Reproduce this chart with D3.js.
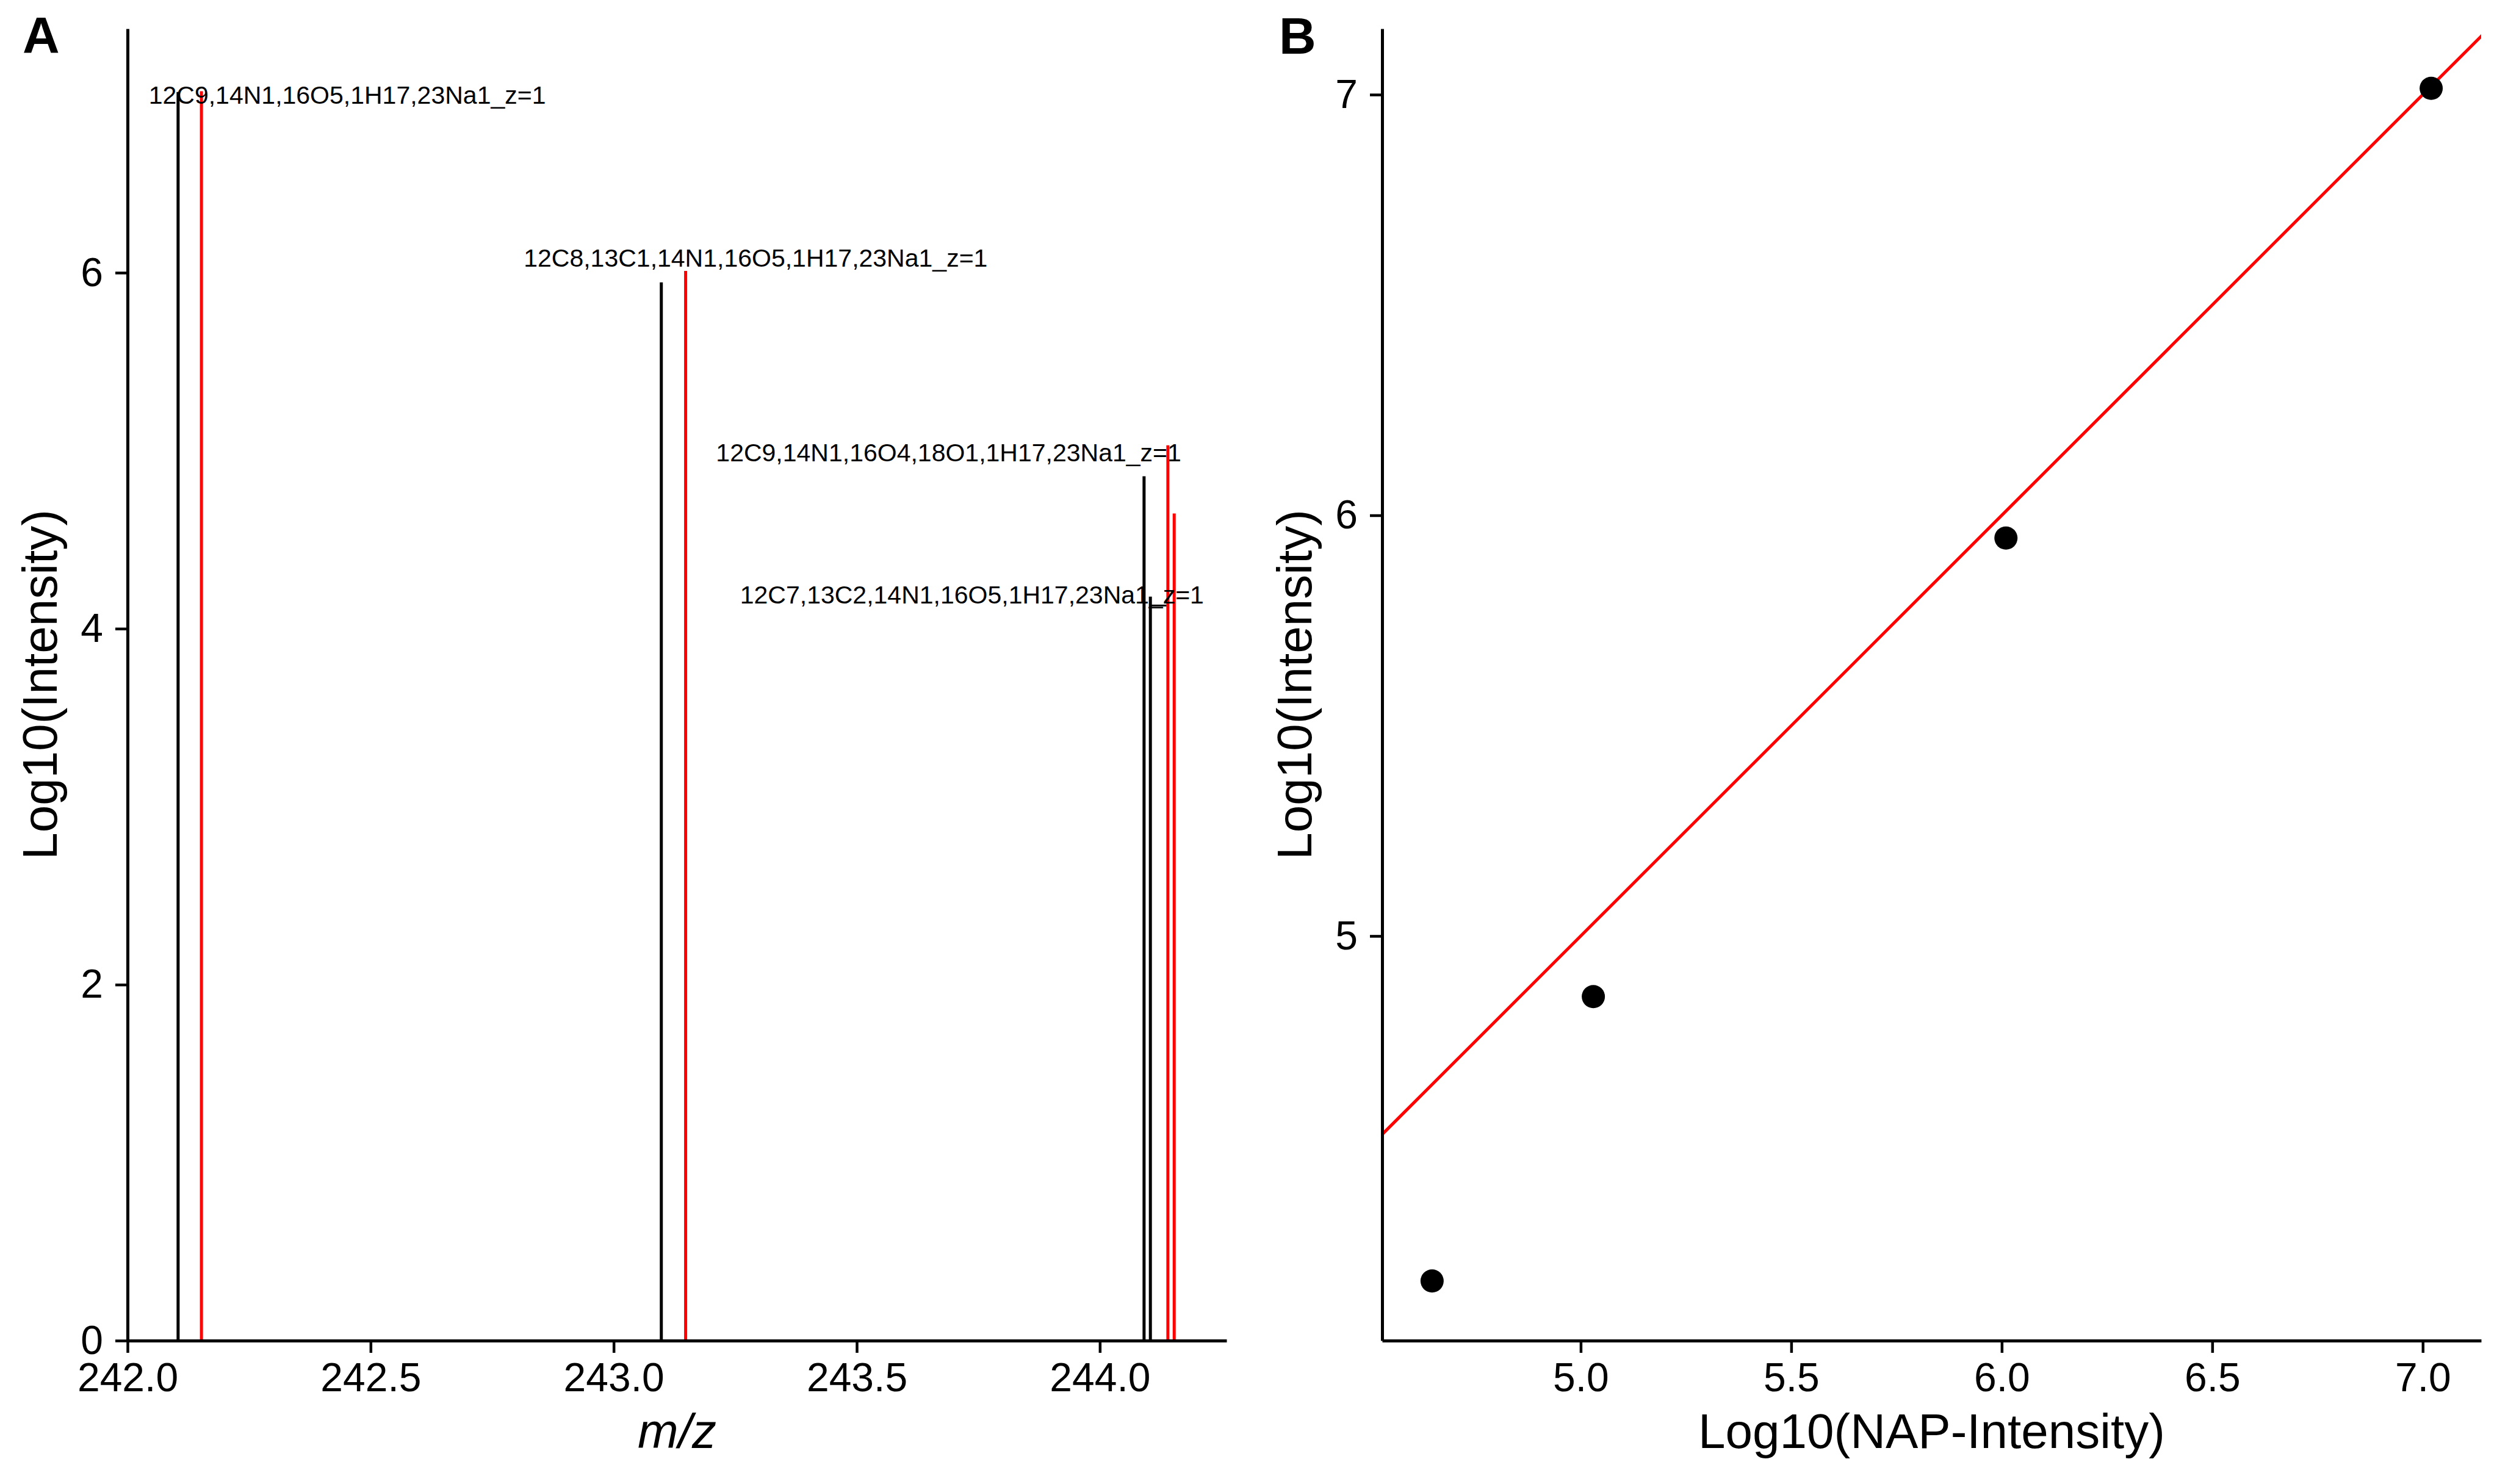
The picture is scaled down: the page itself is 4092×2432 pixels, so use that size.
<!DOCTYPE html>
<html>
<head>
<meta charset="utf-8">
<script src="https://cdnjs.cloudflare.com/ajax/libs/d3/7.8.5/d3.min.js"></script>
<style>
  body { margin: 0; background: #fff; }
  text { font-family: "Liberation Sans", Arial, Helvetica, sans-serif; }
</style>
</head>
<body>
<div id="chart"></div>
<script>
// isotopologue labels (panel A)
var isoLabels = [
    "12C9,14N1,16O5,1H17,23Na1_z=1",
    "12C8,13C1,14N1,16O5,1H17,23Na1_z=1",
    "12C9,14N1,16O4,18O1,1H17,23Na1_z=1",
    "12C7,13C2,14N1,16O5,1H17,23Na1_z=1"
];

// measured peaks (black sticks)
var measuredMz = [242.104, 243.098, 244.091, 244.104];
var measuredLog = [7.015, 5.946, 4.856, 4.18];

// NAP predicted peaks (red sticks)
var napMz = [242.152, 243.148, 244.140, 244.153];
var napLog = [7.02, 6.01, 5.03, 4.647];

// where the repelled labels ended up (data units)
var labelMz = [242.452, 243.292, 243.689, 243.737];
var labelLog = [7.0, 6.083, 4.99, 4.19];

// ticks
var xTicksA = [242.0, 242.5, 243.0, 243.5, 244.0];
var yTicksA = [0, 2, 4, 6];
var xTicksB = [5.0, 5.5, 6.0, 6.5, 7.0];
var yTicksB = [5, 6, 7];

var svgWidth = 4092;
var svgHeight = 2432;

var svg = d3.select("#chart")
    .append("svg")
    .attr("width", svgWidth)
    .attr("height", svgHeight);

svg.append("rect")
    .attr("width", svgWidth)
    .attr("height", svgHeight)
    .attr("fill", "white");

var tickFont = 66;
var titleFont = 80;

// panel boxes in pixels
var panelA = { left: 209, right: 2010, top: 47, bottom: 2197 };
var panelB = { left: 2265, right: 4066, top: 47, bottom: 2197 };

function styleAxis(g) {
    g.select(".domain").attr("stroke", "black").attr("stroke-width", 5);
    g.selectAll(".tick line").attr("stroke", "black").attr("stroke-width", 4.5);
    g.selectAll(".tick text")
        .attr("font-size", tickFont)
        .attr("fill", "black");
}

function expand(lo, hi) {
    var pad = (hi - lo) * 0.05;
    return [lo - pad, hi + pad];
}

// ---------------- Panel A ----------------
var allMz = measuredMz.concat(napMz);
var allLog = measuredLog.concat(napLog);

var xA = d3.scaleLinear()
    .domain([242.0, expand(242.0, d3.max(allMz))[1]])
    .range([panelA.left, panelA.right]);

var yA = d3.scaleLinear()
    .domain([0, expand(0, d3.max(allLog))[1]])
    .range([panelA.bottom, panelA.top]);

var gA = svg.append("g");

// sticks
gA.selectAll(".napStick")
    .data(napMz)
    .enter()
    .append("line")
    .attr("x1", d => xA(d))
    .attr("x2", d => xA(d))
    .attr("y1", yA(0))
    .attr("y2", (d, i) => yA(napLog[i]))
    .attr("stroke", "#ff0000")
    .attr("stroke-width", 5);

gA.selectAll(".measStick")
    .data(measuredMz)
    .enter()
    .append("line")
    .attr("x1", d => xA(d))
    .attr("x2", d => xA(d))
    .attr("y1", yA(0))
    .attr("y2", (d, i) => yA(measuredLog[i]))
    .attr("stroke", "black")
    .attr("stroke-width", 5);

// little repel segment on the last label
gA.append("line")
    .attr("x1", xA(measuredMz[3]))
    .attr("x2", xA(244.137))
    .attr("y1", yA(4.13))
    .attr("y2", yA(4.13))
    .attr("stroke", "black")
    .attr("stroke-width", 3);

gA.selectAll(".isoLabel")
    .data(isoLabels)
    .enter()
    .append("text")
    .attr("x", (d, i) => xA(labelMz[i]))
    .attr("y", (d, i) => yA(labelLog[i]))
    .attr("dy", "0.35em")
    .attr("text-anchor", "middle")
    .attr("font-size", 41)
    .text(d => d);

var xAxisA = gA.append("g")
    .attr("transform", `translate(0, ${panelA.bottom})`)
    .call(d3.axisBottom(xA).tickValues(xTicksA).tickFormat(d3.format(".1f"))
        .tickSizeInner(20).tickSizeOuter(0).tickPadding(16));
styleAxis(xAxisA);

var yAxisA = gA.append("g")
    .attr("transform", `translate(${panelA.left}, 0)`)
    .call(d3.axisLeft(yA).tickValues(yTicksA).tickFormat(d3.format("d"))
        .tickSizeInner(20).tickSizeOuter(0).tickPadding(20));
styleAxis(yAxisA);

gA.append("text")
    .attr("x", (panelA.left + panelA.right) / 2)
    .attr("y", 2373)
    .attr("text-anchor", "middle")
    .attr("font-size", titleFont)
    .attr("font-style", "italic")
    .text("m/z");

gA.append("text")
    .attr("transform", `translate(93, ${(panelA.top + panelA.bottom) / 2}) rotate(-90)`)
    .attr("text-anchor", "middle")
    .attr("font-size", titleFont)
    .text("Log10(Intensity)");

gA.append("text")
    .attr("x", 37)
    .attr("y", 87)
    .attr("font-size", 84)
    .attr("font-weight", "bold")
    .text("A");

// ---------------- Panel B ----------------
var xB = d3.scaleLinear()
    .domain(expand(d3.min(napLog), d3.max(napLog)))
    .range([panelB.left, panelB.right]);

var yB = d3.scaleLinear()
    .domain(expand(d3.min(measuredLog), d3.max(measuredLog)))
    .range([panelB.bottom, panelB.top]);

var gB = svg.append("g");

svg.append("clipPath")
    .attr("id", "clipB")
    .append("rect")
    .attr("x", panelB.left)
    .attr("y", panelB.top)
    .attr("width", panelB.right - panelB.left)
    .attr("height", panelB.bottom - panelB.top);

// y = x reference line
var lo = Math.min(xB.domain()[0], yB.domain()[0]);
var hi = Math.max(xB.domain()[1], yB.domain()[1]);
gB.append("line")
    .attr("clip-path", "url(#clipB)")
    .attr("x1", xB(lo))
    .attr("y1", yB(lo))
    .attr("x2", xB(hi))
    .attr("y2", yB(hi))
    .attr("stroke", "#ff0000")
    .attr("stroke-width", 5);

gB.selectAll("circle")
    .data(napLog)
    .enter()
    .append("circle")
    .attr("cx", d => xB(d))
    .attr("cy", (d, i) => yB(measuredLog[i]))
    .attr("r", 19)
    .attr("fill", "black");

var xAxisB = gB.append("g")
    .attr("transform", `translate(0, ${panelB.bottom})`)
    .call(d3.axisBottom(xB).tickValues(xTicksB).tickFormat(d3.format(".1f"))
        .tickSizeInner(20).tickSizeOuter(0).tickPadding(16));
styleAxis(xAxisB);

var yAxisB = gB.append("g")
    .attr("transform", `translate(${panelB.left}, 0)`)
    .call(d3.axisLeft(yB).tickValues(yTicksB).tickFormat(d3.format("d"))
        .tickSizeInner(20).tickSizeOuter(0).tickPadding(20));
styleAxis(yAxisB);

gB.append("text")
    .attr("x", (panelB.left + panelB.right) / 2)
    .attr("y", 2373)
    .attr("text-anchor", "middle")
    .attr("font-size", titleFont)
    .text("Log10(NAP-Intensity)");

gB.append("text")
    .attr("transform", `translate(${panelB.left - 116}, ${(panelB.top + panelB.bottom) / 2}) rotate(-90)`)
    .attr("text-anchor", "middle")
    .attr("font-size", titleFont)
    .text("Log10(Intensity)");

gB.append("text")
    .attr("x", 2096)
    .attr("y", 88)
    .attr("font-size", 84)
    .attr("font-weight", "bold")
    .text("B");
</script>
</body>
</html>
